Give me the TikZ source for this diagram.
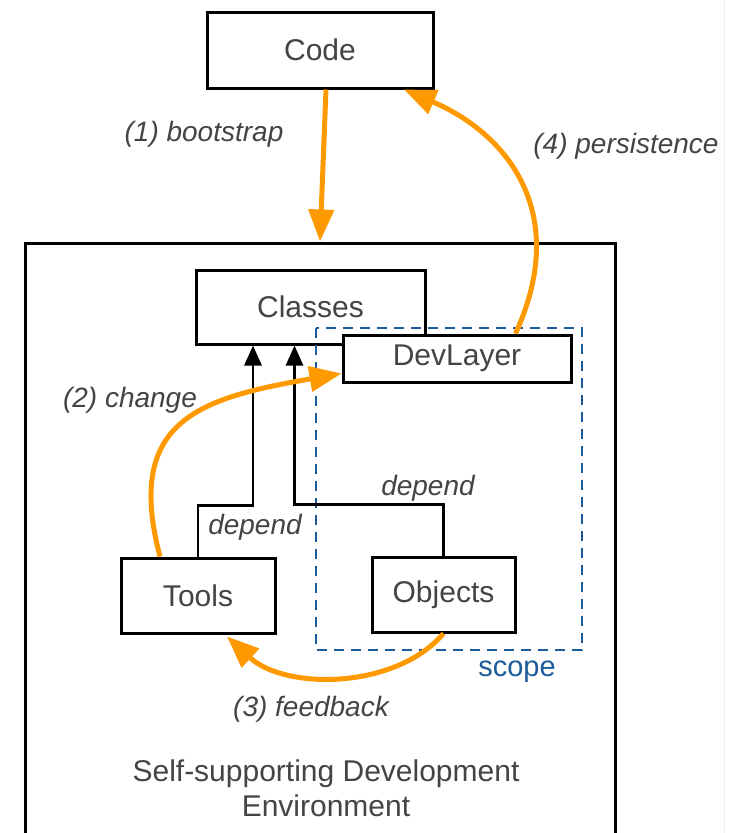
\documentclass[tikz,border=0pt]{standalone}
\usepackage{fontspec}
\setmainfont{Liberation Sans}
\usetikzlibrary{arrows.meta,calc}

\definecolor{txtgray}{HTML}{444444}
\definecolor{flow}{HTML}{FF9900}
\definecolor{scopeblue}{HTML}{1C5C9A}
\definecolor{edgegray}{HTML}{EDEDED}

\tikzset{
  box/.style={draw=black, line width=3pt, fill=white, text=txtgray,
    font=\fontsize{30}{36}\selectfont, inner sep=0pt},
  lbl/.style={text=txtgray, font=\fontsize{28}{34}\selectfont\itshape, inner sep=0pt},
  flowarrow/.style={draw=flow, line width=5pt,
    -{Triangle[length=32pt,width=25pt]}},
  deparrow/.style={draw=black, line width=2.8pt,
    -{Triangle[length=20pt,width=17pt]}},
  scopeframe/.style={draw=scopeblue, line width=2.6pt, dash pattern=on 10pt off 7pt}
}

\begin{document}
\begin{tikzpicture}[x=1pt, y=-1pt]
  \useasboundingbox (0,0) rectangle (737,833);
  \clip (0,0) rectangle (737,833);

  % thin page edge on the right
  \draw[edgegray, line width=1pt] (724,0) -- (724,833);

  % environment frame
  \node[box, minimum width=590pt, minimum height=617pt] (env) at (320,551.5) {};
  \node[text=txtgray, font=\fontsize{30}{35}\selectfont, align=center, inner sep=0pt]
    (envlabel) at (326,788) {Self-supporting Development\\Environment};

  % boxes
  \node[box, minimum width=226pt, minimum height=76pt] (code) at (320,50) {Code};
  \node[box, minimum width=229pt, minimum height=74pt] (classes) at (310.5,307) {Classes};

  % scope frame
  \draw[scopeframe] (316,328) rectangle (582,650);
  \node[text=scopeblue, font=\fontsize{29}{34}\selectfont, inner sep=0pt] (scopelbl) at (517,672) {scope};

  \node[box, minimum width=228pt, minimum height=47pt] (dev) at (457,358.5) {DevLayer};
  \node[box, minimum width=154pt, minimum height=75pt] (tools) at (198,595.5) {Tools};
  \node[box, minimum width=143pt, minimum height=75pt] (objects) at (443.5,594.5) {Objects};

  % depend connectors
  \draw[deparrow] (tools.north) -- ++(0,-51) -| ($(classes.south)+(-57.5,0)$);
  \draw[deparrow] (objects.north) -- ++(0,-51) -| ($(classes.south)+(-16,0)$);
  \node[lbl] (dep1) at (255,527) {depend};
  \node[lbl] (dep2) at (428,488) {depend};

  % development flow
  \draw[flowarrow] ($(code.south)+(6,0)$) -- (env.north);
  \node[lbl] (l1) at (204,134) {(1) bootstrap};

  \draw[flowarrow] ($(tools.north)+(-38,0)$)
    .. controls (124,420) and (200,398) .. ($(dev.south west)+(0,-10)$);
  \node[lbl] (l2) at (130,400) {(2) change};

  \draw[flowarrow] (objects.south)
    .. controls (395,690) and (285,690) .. ($(tools.south)+(29,2)$);
  \node[lbl] (l3) at (311,709) {(3) feedback};

  \draw[flowarrow] ($(dev.north east)+(-57,0)$)
    .. controls (570,215) and (510,135) .. ($(code.south)+(84,0)$);
  \node[lbl] (l4) at (626,146) {(4) persistence};
\end{tikzpicture}
\end{document}
